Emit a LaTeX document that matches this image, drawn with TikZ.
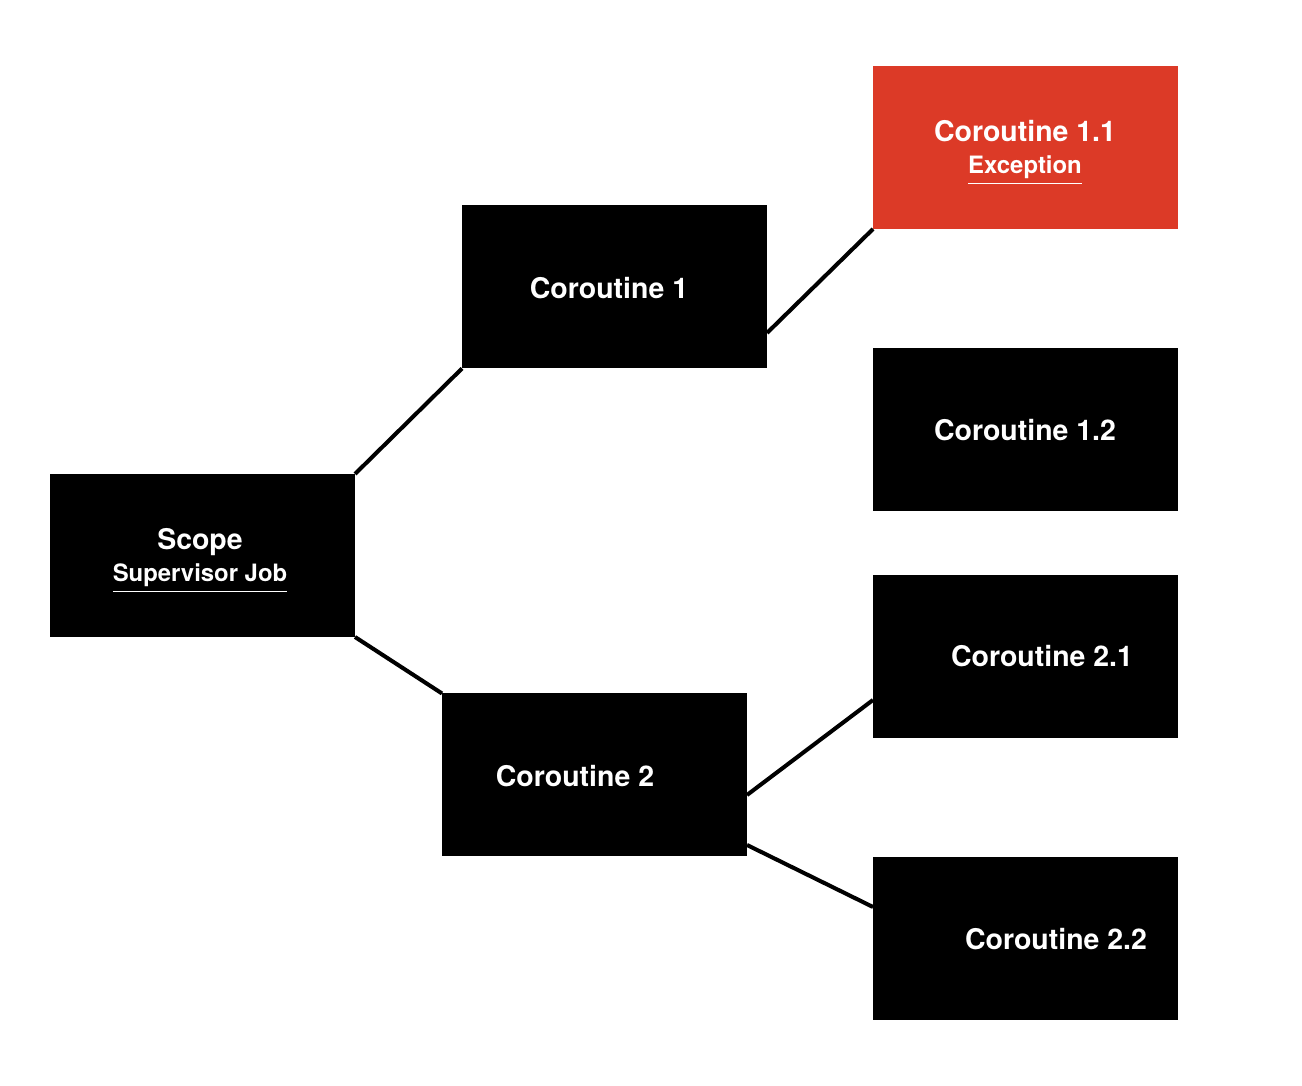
\documentclass[tikz,border=0pt]{standalone}
\usepackage{fontspec}
\setmainfont{TeX Gyre Heros}
\usepackage{tikz}

\definecolor{errred}{RGB}{220,58,39}
\newcommand{\subtxt}[1]{{\fontsize{6.8}{8}\selectfont\underline{#1}}}

\tikzset{
	jobbox/.style={rectangle,fill=black,minimum width=3.05cm,minimum height=1.63cm,inner sep=0,outer sep=0},
	errbox/.style={jobbox,fill=errred},
	lbl/.style={text=white,font=\bfseries\fontsize{8.1}{9.5}\selectfont,align=center,inner sep=0},
	link/.style={line width=1.15pt}
}

\begin{document}
\begin{tikzpicture}
	\useasboundingbox (0,0) rectangle (13.02,10.86);
	%BOXES
	\node[jobbox] (scope) at (2.025,5.305) {};
	\node[jobbox] (c1) at (6.145,7.99) {};
	\node[jobbox] (c2) at (5.945,3.11) {};
	\node[errbox] (c11) at (10.255,9.385) {};
	\node[jobbox] (c12) at (10.255,6.56) {};
	\node[jobbox] (c21) at (10.255,4.295) {};
	\node[jobbox] (c22) at (10.255,1.47) {};
	
	%LABELS
	\node[lbl] (scopetxt) at (2.0,5.25) {Scope \\[-0.2mm] \subtxt{Supervisor Job}};
	\node[lbl] (c1txt) at (6.09,7.98) {Coroutine 1};
	\node[lbl] (c2txt) at (5.75,3.10) {Coroutine 2};
	\node[lbl] (c11txt) at (10.25,9.33) {Coroutine 1.1 \\[-0.2mm] \subtxt{Exception}};
	\node[lbl] (c12txt) at (10.25,6.56) {Coroutine 1.2};
	\node[lbl] (c21txt) at (10.42,4.30) {Coroutine 2.1};
	\node[lbl] (c22txt) at (10.56,1.47) {Coroutine 2.2};
	
	%LINKS
	\draw[link] (scope.north east)--(c1.south west);
	\draw[link] (scope.south east)--(c2.north west);
	\draw[link] ([yshift=-4.6mm]c1.east)--(c11.south west);
	\draw[link] ([yshift=-2mm]c2.east)--([yshift=-4.35mm]c21.west);
	\draw[link] ([yshift=-7mm]c2.east)--([yshift=3.2mm]c22.west);
\end{tikzpicture}
\end{document}
